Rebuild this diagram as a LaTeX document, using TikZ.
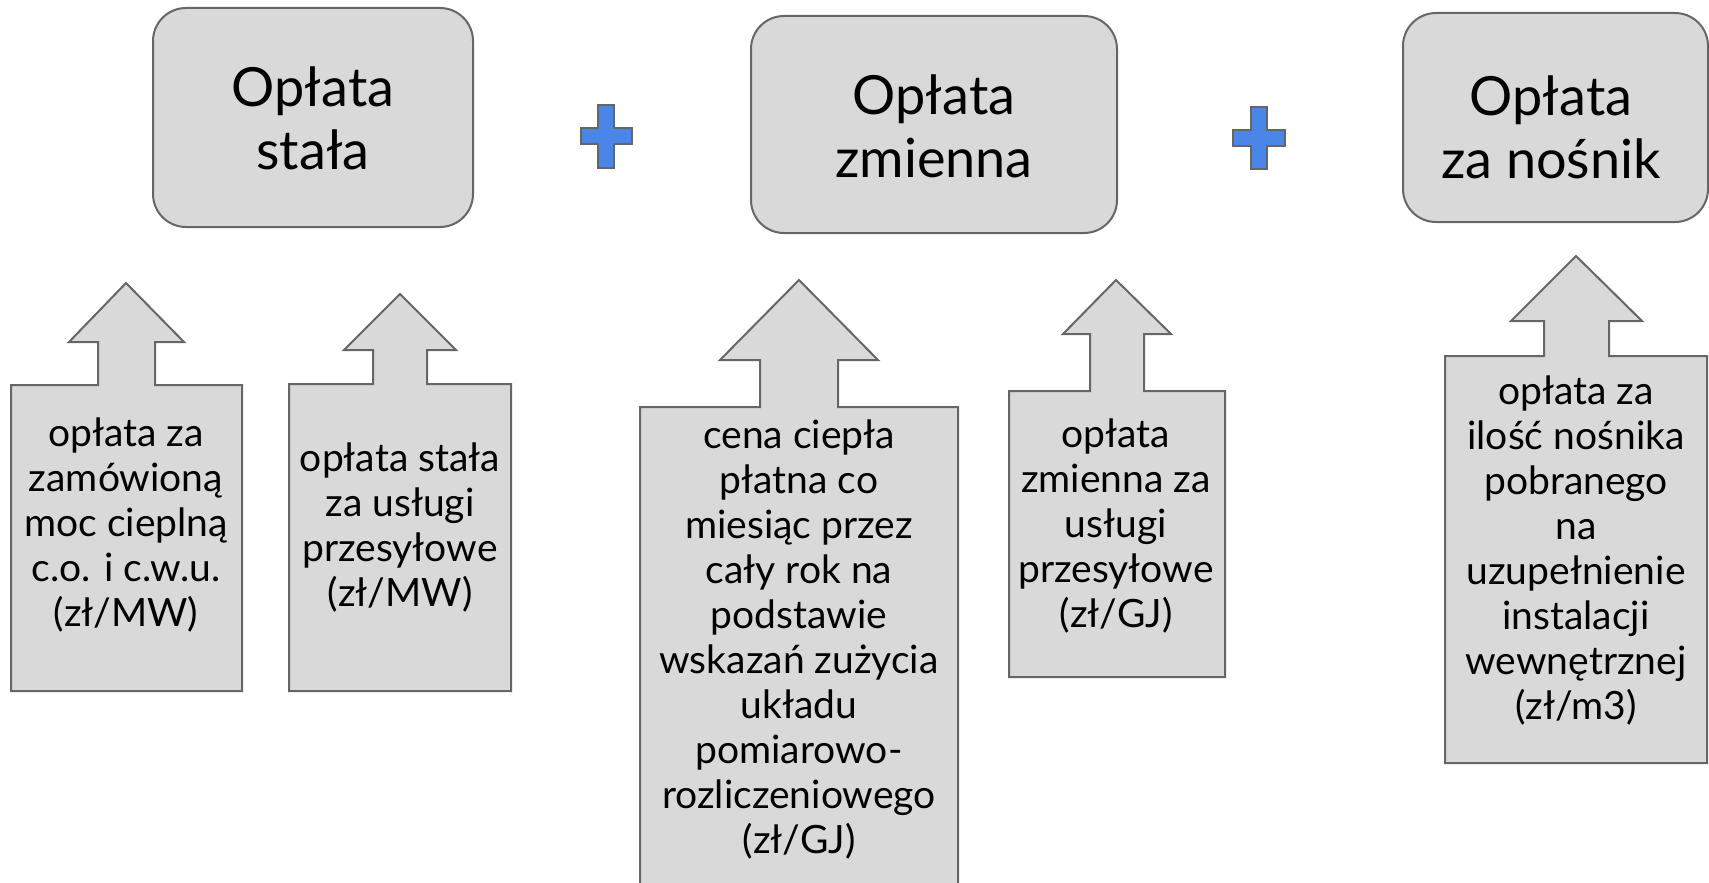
\documentclass[tikz,border=0pt]{standalone}
\usepackage{fontspec}
\setmainfont{Lato}
\definecolor{boxfill}{HTML}{D9D9D9}
\definecolor{boxline}{HTML}{666666}
\definecolor{plusblue}{HTML}{4A86E8}
\tikzset{
  topbox/.style={draw=boxline, fill=boxfill, line width=2pt, rounded corners=33pt, inner sep=0pt},
  toptext/.style={align=center, inner sep=0pt, font=\fontsize{54}{63}\selectfont},
  arrowbox/.style={draw=boxline, fill=boxfill, line width=2pt, line join=miter},
  boxtext/.style={align=center, inner sep=0pt, font=\fontsize{39}{45}\selectfont},
  plussign/.style={draw=boxline, fill=plusblue, line width=2pt}
}
\begin{document}
\begin{tikzpicture}[x=1pt,y=-1pt]
\useasboundingbox (0,0) rectangle (1709,883);
\clip (0,0) rectangle (1709,883);
% top boxes
\node[topbox, minimum width=320pt, minimum height=219pt] (t1) at (313,117.5) {};
\node[toptext] (t1txt) at (313,118) {Opłata\\stała};
\node[topbox, minimum width=366pt, minimum height=217pt] (t2) at (934,124.5) {};
\node[toptext] (t2txt) at (934,126) {Opłata\\zmienna};
\node[topbox, minimum width=305pt, minimum height=209pt] (t3) at (1555.5,117.5) {};
\node[toptext] (t3txt) at (1551,127) {Opłata\\za nośnik};
% plus signs
\draw[plussign] (598,105) -- (614,105) -- (614,128) -- (632,128) -- (632,144) -- (614,144) -- (614,168) -- (598,168) -- (598,144) -- (581,144) -- (581,128) -- (598,128) -- cycle;
\draw[plussign] (1251,107) -- (1267,107) -- (1267,130) -- (1285,130) -- (1285,146) -- (1267,146) -- (1267,169) -- (1251,169) -- (1251,146) -- (1233,146) -- (1233,130) -- (1251,130) -- cycle;
% bottom arrow boxes
\draw[arrowbox] (11,691) -- (11,385) -- (98,385) -- (98,342) -- (69,342) -- (126,283) -- (184,342) -- (155,342) -- (155,385) -- (242,385) -- (242,691) -- cycle;
\node[boxtext] (b1) at (126,525) {opłata za\\zamówioną\\moc cieplną\\c.o. i c.w.u.\\(zł/MW)};
\draw[arrowbox] (289,691) -- (289,384) -- (373,384) -- (373,350) -- (344,350) -- (400,294) -- (456,350) -- (427,350) -- (427,384) -- (511,384) -- (511,691) -- cycle;
\node[boxtext] (b2) at (400,527) {opłata stała\\za usługi\\przesyłowe\\(zł/MW)};
\draw[arrowbox] (640,900) -- (640,407) -- (760,407) -- (760,360) -- (720,360) -- (799,280) -- (878,360) -- (838,360) -- (838,407) -- (958,407) -- (958,900) -- cycle;
\node[boxtext] (b3) at (799,639) {cena ciepła\\płatna co\\miesiąc przez\\cały rok na\\podstawie\\wskazań zużycia\\układu\\pomiarowo-\\rozliczeniowego\\(zł/GJ)};
\draw[arrowbox] (1009,677) -- (1009,391) -- (1090,391) -- (1090,334) -- (1063,334) -- (1116,280) -- (1171,334) -- (1144,334) -- (1144,391) -- (1225,391) -- (1225,677) -- cycle;
\node[boxtext] (b4) at (1116,526) {opłata\\zmienna za\\usługi\\przesyłowe\\(zł/GJ)};
\draw[arrowbox] (1445,763) -- (1445,356) -- (1544,356) -- (1544,321) -- (1511,321) -- (1576,256) -- (1642,321) -- (1609,321) -- (1609,356) -- (1707,356) -- (1707,763) -- cycle;
\node[boxtext] (b5) at (1576,550) {opłata za\\ilość nośnika\\pobranego\\na\\uzupełnienie\\instalacji\\wewnętrznej\\(zł/m3)};
\end{tikzpicture}
\end{document}
